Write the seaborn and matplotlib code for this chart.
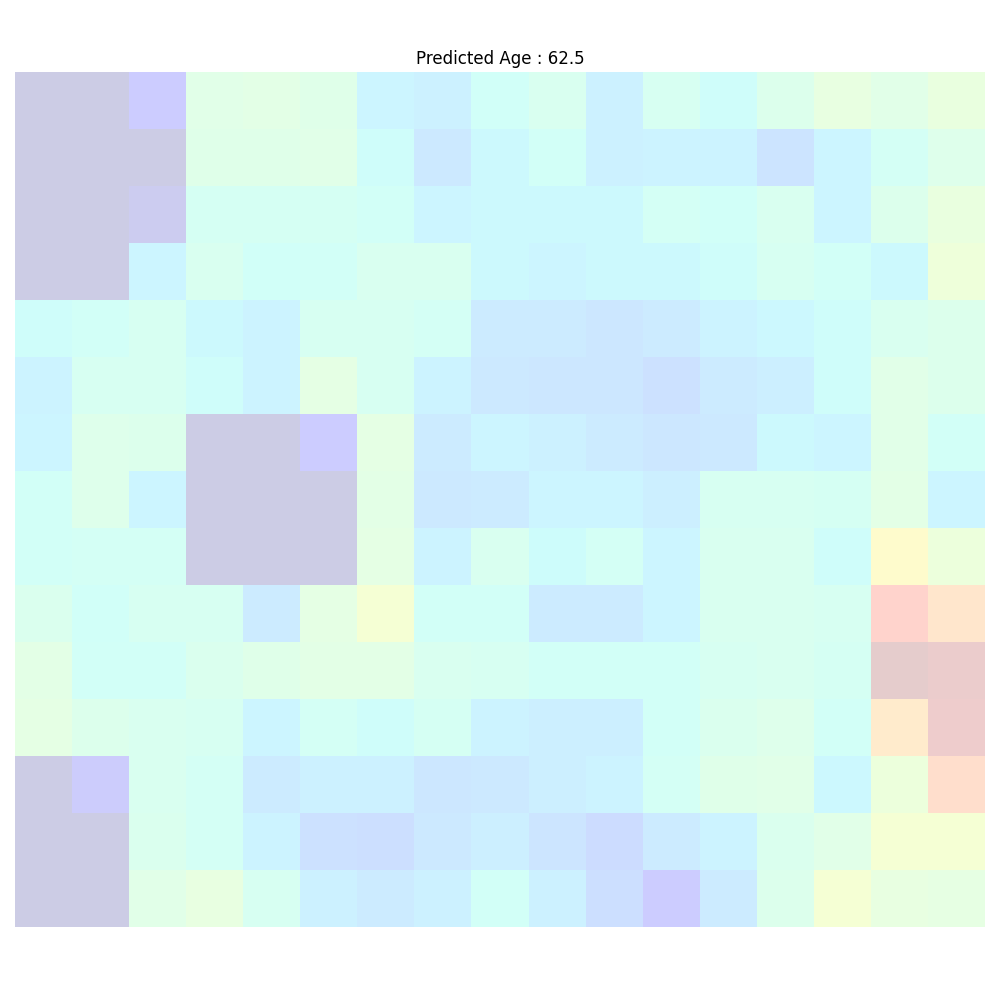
import numpy as np
import matplotlib
matplotlib.use("Agg")
import matplotlib.pyplot as plt
import seaborn as sns

predicted_age = 62.5

# saliency values per grid cell (rows top -> bottom)
row_00 = [0.00, 0.00, 0.11, 0.48, 0.49, 0.47, 0.33, 0.31, 0.38, 0.43, 0.31, 0.42, 0.37, 0.45, 0.52, 0.48, 0.53]
row_01 = [0.00, 0.00, 0.00, 0.47, 0.47, 0.48, 0.37, 0.27, 0.35, 0.39, 0.31, 0.32, 0.32, 0.245, 0.33, 0.40, 0.46]
row_02 = [0.00, 0.00, 0.05, 0.41, 0.41, 0.41, 0.39, 0.33, 0.35, 0.35, 0.35, 0.40, 0.38, 0.43, 0.33, 0.45, 0.53]
row_03 = [0.00, 0.00, 0.33, 0.43, 0.38, 0.39, 0.43, 0.43, 0.35, 0.33, 0.35, 0.35, 0.37, 0.42, 0.39, 0.35, 0.56]
row_04 = [0.37, 0.39, 0.42, 0.35, 0.32, 0.42, 0.42, 0.40, 0.28, 0.28, 0.26, 0.28, 0.32, 0.34, 0.37, 0.43, 0.45]
row_05 = [0.32, 0.42, 0.42, 0.37, 0.32, 0.50, 0.42, 0.32, 0.27, 0.26, 0.26, 0.23, 0.28, 0.30, 0.37, 0.48, 0.45]
row_06 = [0.33, 0.46, 0.45, 0.00, 0.00, 0.11, 0.50, 0.28, 0.33, 0.31, 0.28, 0.26, 0.27, 0.35, 0.33, 0.48, 0.39]
row_07 = [0.39, 0.46, 0.33, 0.00, 0.00, 0.00, 0.49, 0.27, 0.28, 0.33, 0.33, 0.30, 0.42, 0.42, 0.41, 0.49, 0.33]
row_08 = [0.39, 0.40, 0.40, 0.00, 0.00, 0.00, 0.50, 0.32, 0.43, 0.36, 0.40, 0.33, 0.43, 0.43, 0.37, 0.66, 0.55]
row_09 = [0.44, 0.38, 0.42, 0.42, 0.28, 0.50, 0.60, 0.39, 0.39, 0.28, 0.28, 0.33, 0.43, 0.43, 0.42, 0.87, 0.77]
row_10 = [0.49, 0.39, 0.39, 0.44, 0.47, 0.49, 0.49, 0.43, 0.42, 0.39, 0.39, 0.39, 0.42, 0.43, 0.41, 1.00, 0.97]
row_11 = [0.50, 0.45, 0.43, 0.42, 0.33, 0.40, 0.37, 0.41, 0.32, 0.30, 0.30, 0.39, 0.44, 0.46, 0.39, 0.74, 0.96]
row_12 = [0.00, 0.10, 0.43, 0.40, 0.28, 0.31, 0.31, 0.26, 0.27, 0.30, 0.32, 0.40, 0.47, 0.48, 0.34, 0.55, 0.81]
row_13 = [0.00, 0.00, 0.44, 0.40, 0.32, 0.23, 0.22, 0.27, 0.30, 0.25, 0.21, 0.28, 0.32, 0.44, 0.48, 0.60, 0.60]
row_14 = [0.00, 0.00, 0.48, 0.52, 0.42, 0.31, 0.28, 0.31, 0.39, 0.31, 0.22, 0.13, 0.28, 0.45, 0.60, 0.52, 0.51]

grid = np.array([row_00, row_01, row_02, row_03, row_04, row_05, row_06, row_07,
                 row_08, row_09, row_10, row_11, row_12, row_13, row_14])

fig = plt.figure(figsize=(10, 10), dpi=100)
ax = fig.add_axes([0.015, 0.073, 0.97, 0.855])
sns.heatmap(grid, cmap="jet", vmin=0, vmax=1, alpha=0.2, cbar=False,
            xticklabels=False, yticklabels=False, ax=ax)
ax.set_title(f"Predicted Age : {predicted_age}", fontsize=12)
ax.axis("off")

plt.savefig("out.png", dpi=100)
